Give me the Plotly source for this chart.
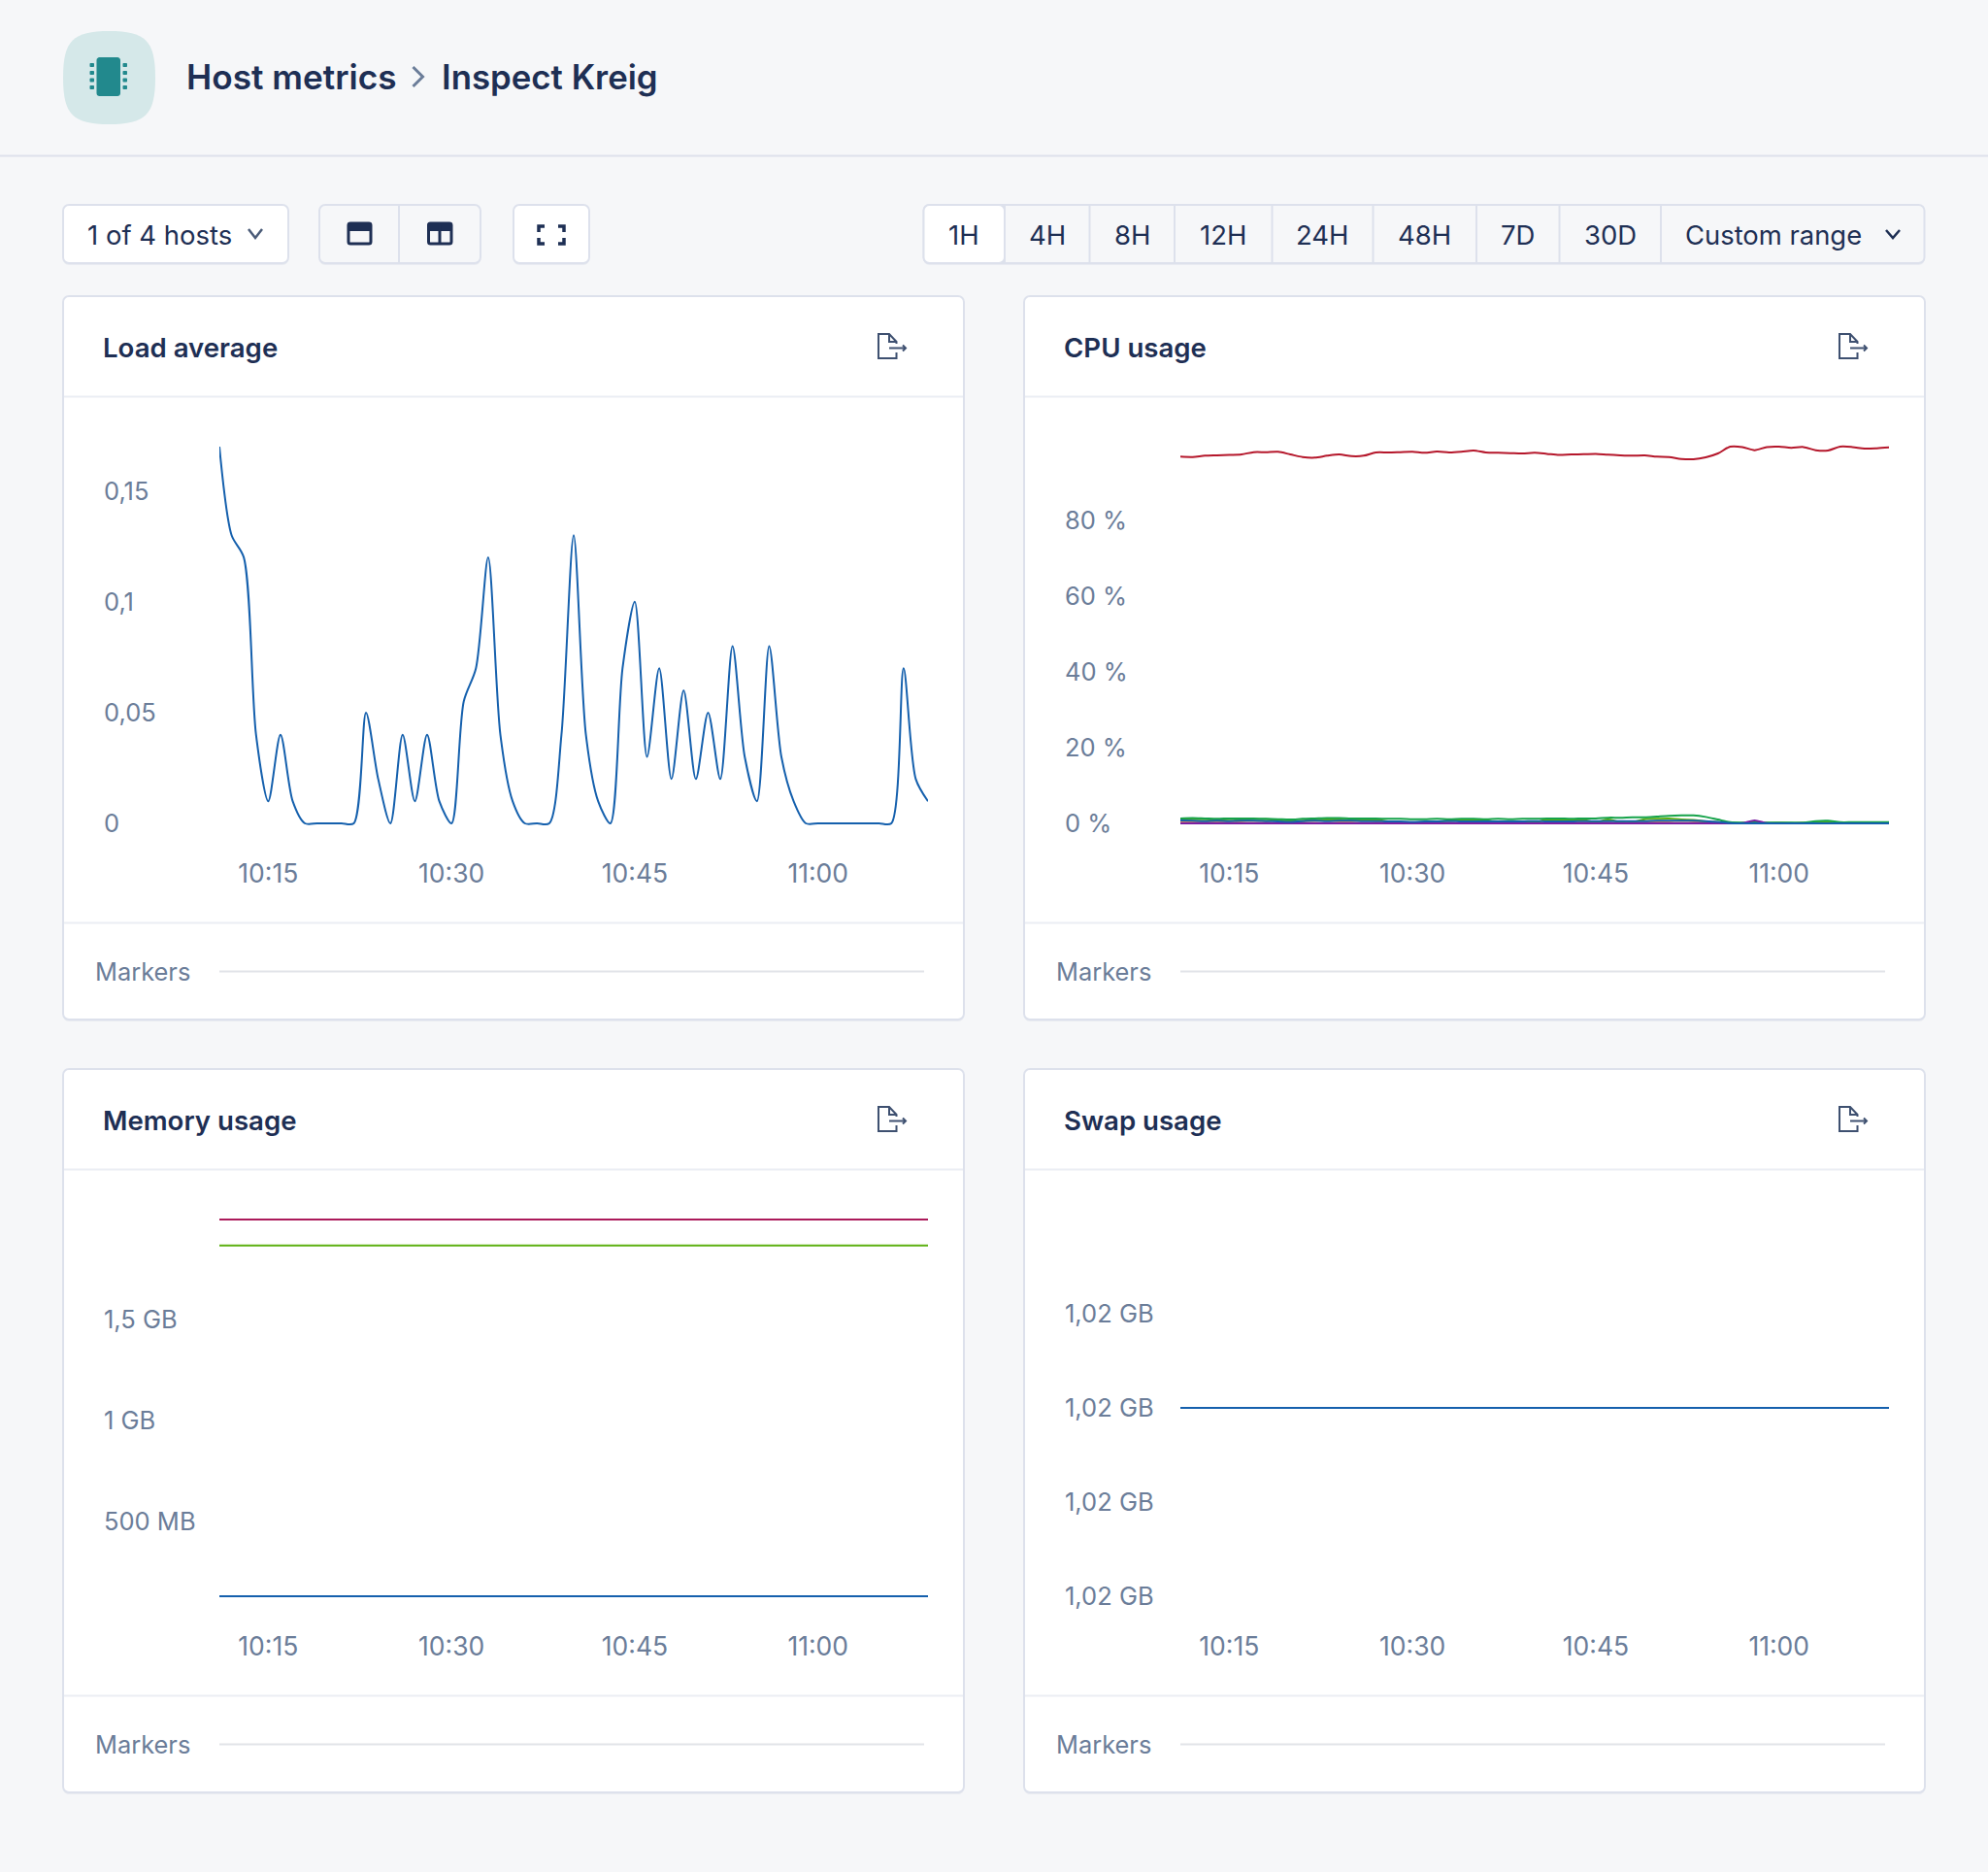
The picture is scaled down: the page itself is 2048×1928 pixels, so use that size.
import pandas as pd
import plotly.graph_objects as go

W, H = 2048, 1928
minutes = pd.date_range("2021-03-01 10:11", periods=59, freq="min")
tick_times = ["2021-03-01 10:15", "2021-03-01 10:30", "2021-03-01 10:45", "2021-03-01 11:00"]

load_avg = [0.17, 0.13, 0.12, 0.04, 0.01, 0.04, 0.01, 0, 0, 0, 0, 0, 0.05, 0.02, 0, 0.04, 0.01, 0.04, 0.01, 0,
            0.055, 0.07, 0.12, 0.04, 0.01, 0, 0, 0, 0.04, 0.13, 0.04, 0.01, 0, 0.07, 0.10, 0.03, 0.07, 0.02, 0.06, 0.02,
            0.05, 0.02, 0.08, 0.03, 0.01, 0.08, 0.03, 0.01, 0, 0, 0, 0, 0, 0, 0, 0, 0.07, 0.02, 0.01]

cpu_idle = [96.85, 96.76, 97.1, 97.2, 97.3, 97.45, 98.04, 98.04, 98.13, 97.45, 96.76, 96.6, 97.1, 97.45, 97.0,
            97.1, 97.96, 97.96, 98.04, 98.13, 97.87, 98.2, 97.96, 98.13, 98.47, 97.96, 97.87, 97.79, 97.7, 97.87,
            97.6, 97.3, 97.45, 97.5, 97.6, 97.36, 97.2, 97.1, 97.2, 96.85, 96.76, 96.25, 96.17, 96.68, 97.7,
            99.5, 99.4, 98.56, 99.4, 99.5, 99.2, 99.4, 98.56, 98.47, 99.5, 99.4, 98.98, 99.07, 99.3]
cpu_user = [1.3, 1.4, 1.3, 1.2, 1.3, 1.3, 1.3, 1.2, 1.1, 1.0, 1.2, 1.3, 1.4, 1.4, 1.3, 1.3, 1.3, 1.2, 1.2, 1.1,
            1.1, 1.2, 1.1, 1.2, 1.2, 1.1, 1.2, 1.1, 1.2, 1.2, 1.3, 1.3, 1.2, 1.3, 1.3, 1.5, 1.5, 1.6, 1.6, 1.8,
            2.0, 2.1, 2.1, 1.7, 1.0, 0.3, 0.2, 0.3, 0.2, 0.2, 0.2, 0.2, 0.6, 0.7, 0.3, 0.3, 0.3, 0.3, 0.3]
cpu_lime = [1.0, 1.1, 1.1, 0.9, 1.1, 1.0, 1.1, 1.1, 0.9, 0.5, 0.7, 0.9, 1.0, 1.0, 0.9, 1.0, 1.0, 0.5, 0.2, 0.2,
            0.3, 0.2, 0.9, 1.0, 0.9, 0.9, 0.2, 0.2, 0.3, 0.3, 1.0, 1.0, 0.9, 0.9, 0.3, 1.0, 0.3, 0.3, 1.1, 1.2,
            1.3, 1.0, 0.9, 0.5, 0.3, 0.1, 0.1, 0.1, 0.1, 0.1, 0.1, 0.1, 0.3, 0.3, 0.1, 0.1, 0.1, 0.1, 0.1]
cpu_orange = [0.2, 0.2, 0.2, 0.2, 0.2, 0.2, 0.1, 0.2, 0.1, 0.2, 0.2, 0.1, 0.1, 0.2, 0.2, 0.1, 0.2, 0.2, 0.2, 0.2,
              0.2, 0.1, 0.2, 0.1, 0.2, 0.2, 0.2, 0.1, 0.2, 0.2, 0.1, 0.2, 0.2, 0.2, 0.2, 0.2, 0.1, 0.2, 0.2, 0.2,
              0.2, 0.1, 0.2, 0.2, 0.1, 0.1, 0, 0.1, 0, 0.1, 0, 0.1, 0.1, 0.1, 0, 0.1, 0, 0, 0]
cpu_purple = [0, 0, 0, 0, 0, 0, 0, 0, 0, 0, 0, 0, 0, 0, 0, 0, 0, 0, 0, 0,
              0, 0, 0, 0, 0, 0, 0, 0, 0, 0, 0, 0, 0, 0, 0, 0, 0, 0, 0, 0,
              0, 0, 0, 0, 0, 0, 0.05, 0.8, 0.05, 0, 0, 0, 0, 0, 0, 0, 0, 0, 0]
cpu_blue = [0.8, 0.7, 0.6, 0.7, 0.6, 0.7, 0.7, 0.6, 0.5, 0.4, 0.6, 0.7, 0.6, 0.7, 0.7, 0.6, 0.6, 0.5, 0.5, 0.4,
            0.5, 0.5, 0.6, 0.5, 0.5, 0.5, 0.5, 0.5, 0.5, 0.6, 0.5, 0.5, 0.5, 0.6, 0.6, 0.6, 0.6, 0.6, 0.6, 0.7,
            0.7, 0.7, 0.7, 0.6, 0.4, 0.05, 0, 0, 0, 0, 0, 0, 0, 0, 0, 0, 0, 0, 0]

mem_total = [1993] * len(minutes)
mem_used = [1865] * len(minutes)
mem_free = [128] * len(minutes)
swap_total = [1022] * len(minutes)

load_ticks = [0, 0.05, 0.1, 0.15]
load_labels = ["0", "0,05", "0,1", "0,15"]
cpu_ticks = [0, 20, 40, 60, 80]
cpu_labels = ["0 %", "20 %", "40 %", "60 %", "80 %"]
mem_ticks = [500, 1000, 1500]
mem_labels = ["500 MB", "1 GB", "1,5 GB"]
swap_ticks = [1020, 1021, 1022, 1023]
swap_labels = ["1,02 GB", "1,02 GB", "1,02 GB", "1,02 GB"]

titles = ["Load average", "CPU usage", "Memory usage", "Swap usage"]
ranges = ["1H", "4H", "8H", "12H", "24H", "48H", "7D", "30D"]

NAVY = "#1e2f54"
GREY = "#6b7d99"
BORDER = "#dde1ec"
DIVIDER = "#ebeef4"
BG = "#f6f7f9"
FONT = "Inter"


def X(p):
    return p / W


def Y(p):
    return 1 - p / H


def path(points):
    s = ""
    for i, (a, b) in enumerate(points):
        s += ("M" if i == 0 else "L") + f"{X(a):.5f},{Y(b):.5f}"
    return s


def curves(seg):
    s = ""
    for item in seg:
        s += item[0] + " ".join(f"{X(a):.5f},{Y(b):.5f}" for a, b in item[1:])
    return s + "Z"


def rrect(x0, y0, x1, y1, r):
    k = r * 0.45
    return curves([
        ("M", (x0 + r, y0)), ("L", (x1 - r, y0)),
        ("C", (x1 - k, y0), (x1, y0 + k), (x1, y0 + r)), ("L", (x1, y1 - r)),
        ("C", (x1, y1 - k), (x1 - k, y1), (x1 - r, y1)), ("L", (x0 + r, y1)),
        ("C", (x0 + k, y1), (x0, y1 - k), (x0, y1 - r)), ("L", (x0, y0 + r)),
        ("C", (x0, y0 + k), (x0 + k, y0), (x0 + r, y0)),
    ])


def squircle(x0, y0, x1, y1, c):
    mx, my = (x0 + x1) / 2, (y0 + y1) / 2
    return curves([
        ("M", (mx, y0)),
        ("C", (x1 - c, y0), (x1, y0 + c), (x1, my)),
        ("C", (x1, y1 - c), (x1 - c, y1), (mx, y1)),
        ("C", (x0 + c, y1), (x0, y1 - c), (x0, my)),
        ("C", (x0, y0 + c), (x0 + c, y0), (mx, y0)),
    ])


shapes = []
notes = []


def add_path(d, fill=None, line=None, width=0):
    shapes.append(dict(type="path", path=d, xref="paper", yref="paper", layer="below",
                       fillcolor=fill if fill else "rgba(0,0,0,0)",
                       line=dict(color=line if line else "rgba(0,0,0,0)", width=width)))


def add_box(x0, y0, x1, y1, r=6, fill="white"):
    add_path(rrect(x0, y0 + 2, x1, y1 + 2, r), fill="#e9ebf1")
    add_path(rrect(x0, y0, x1, y1, r), fill=fill, line=BORDER, width=2)


def add_text(x, y, text, size, color=NAVY, anchor="left", weight=400):
    notes.append(dict(x=X(x), y=Y(y), xref="paper", yref="paper", text=text, showarrow=False,
                      xanchor=anchor, yanchor="middle", align=anchor,
                      font=dict(family=FONT, size=size, color=color, weight=weight)))


def add_chevron(x0, x1, y0, y1, color=GREY, width=2.5):
    add_path(path([(x0, y0), ((x0 + x1) / 2, y1), (x1, y0)]), line=color, width=width)


# page header
add_path(path([(0, 160.5), (W, 160.5)]), line=BORDER, width=2)
add_path(squircle(65, 32, 160, 128, 10), fill="#d5e8e9")
add_path(rrect(99.5, 59, 124, 99, 3), fill="#22898d")
for py in [67, 75, 82.5, 90]:
    add_path(rrect(92.5, py - 2, 97, py + 2, 1), fill="#22898d")
    add_path(rrect(126.5, py - 2, 131, py + 2, 1), fill="#22898d")
add_text(189.5, 79, "Host metrics", 35.2, weight=600)
add_path(path([(425.5, 69), (435.5, 79), (425.5, 89)]), line=GREY, width=3)
add_text(452.5, 79, "Inspect Kreig", 34.8, weight=600)

# toolbar
add_box(65, 211, 297, 271)
add_text(88, 242, "1 of 4 hosts", 27.5)
add_chevron(256, 270, 236, 245, color="#4a5b78")

add_box(329, 211, 495, 271, fill=BG)
add_path(path([(411, 211), (411, 271)]), line=BORDER, width=2)
add_path(rrect(359, 230, 382, 251, 2), line=NAVY, width=3)
add_path(rrect(358, 229, 383, 238, 2), fill=NAVY)
add_path(rrect(441.5, 230, 465, 251, 2), line=NAVY, width=3)
add_path(rrect(440.5, 229, 466, 238, 2), fill=NAVY)
add_path(path([(453, 232), (453, 251)]), line=NAVY, width=3)

add_box(529, 211, 607, 271)
for cx, cy, dx, dy in [(555, 233, 1, 1), (581, 233, -1, 1), (555, 251, 1, -1), (581, 251, -1, -1)]:
    add_path(path([(cx + 6 * dx, cy), (cx, cy), (cx, cy + 6 * dy)]), line=NAVY, width=3.5)

range_edges = [951.5, 1035, 1122.5, 1210, 1310.5, 1414.5, 1521, 1606.5, 1711, 1982.5]
add_box(951.5, 211, 1982.5, 271, fill=BG)
add_path(rrect(951.5, 211, 1035, 271, 6), fill="white", line=BORDER, width=2)
for edge in range_edges[1:-1]:
    add_path(path([(edge, 211), (edge, 271)]), line=BORDER, width=2)
for i, label in enumerate(ranges):
    add_text((range_edges[i] + range_edges[i + 1]) / 2, 242, label, 27.5, anchor="center")
add_text(1734, 242, "Custom range", 27.4)
add_chevron(1943, 1957, 237, 245, color=NAVY)

# cards
offsets = [(0, 0), (990, 0), (0, 796), (990, 796)]
for (dx, dy), title in zip(offsets, titles):
    add_box(65 + dx, 305 + dy, 993 + dx, 1050 + dy)
    add_path(path([(66 + dx, 408.5 + dy), (992 + dx, 408.5 + dy)]), line=DIVIDER, width=2)
    add_path(path([(66 + dx, 950.5 + dy), (992 + dx, 950.5 + dy)]), line=DIVIDER, width=2)
    add_text(103.5 + dx, 358 + dy, title, 27.6, weight=600)
    add_text(95.5 + dx, 1000.5 + dy, "Markers", 25.4, color=GREY)
    add_path(path([(226 + dx, 1000.5 + dy), (952 + dx, 1000.5 + dy)]), line="#e1e3e8", width=2)
    # export icon
    add_path(path([(923.5 + dx, 363 + dy), (923.5 + dx, 369 + dy), (905 + dx, 369 + dy), (905 + dx, 344 + dy),
                   (916 + dx, 344 + dy), (923.5 + dx, 352 + dy), (923.5 + dx, 354 + dy)]), line="#3e5070", width=2)
    add_path(path([(916 + dx, 344 + dy), (916 + dx, 352 + dy), (923.5 + dx, 352 + dy)]), line="#3e5070", width=2)
    add_path(path([(916 + dx, 358.5 + dy), (933 + dx, 358.5 + dy)]), line="#3e5070", width=2)
    add_path(path([(930 + dx, 355.5 + dy), (933 + dx, 358.5 + dy), (930 + dx, 361.5 + dy)]), line="#3e5070", width=2)

fig = go.Figure()
panels = [
    [(load_avg, "#1560ad", "Load")],
    [(cpu_idle, "#b5172b", "Idle"), (cpu_orange, "#d9622b", "System"), (cpu_lime, "#5cb011", "Nice"),
     (cpu_user, "#16a34a", "User"), (cpu_purple, "#7b1fa2", "Steal"), (cpu_blue, "#1560ad", "Iowait")],
    [(mem_total, "#ab1a5a", "Total"), (mem_used, "#5cb011", "Used"), (mem_free, "#1560ad", "Free")],
    [(swap_total, "#1560ad", "Swap")],
]
y_setup = [
    ([0, 0.17], load_ticks, load_labels),
    ([0, 99.5], cpu_ticks, cpu_labels),
    ([128, 1993], mem_ticks, mem_labels),
    ([1020, 1024], swap_ticks, swap_labels),
]

# lines get clipped at the plot edge, so leave 4px of room above and below
PAD = 4
layout_axes = {}
for i, (series, (dx, dy), (yrange, ticks, labels)) in enumerate(zip(panels, offsets, y_setup), start=1):
    for values, color, name in series:
        fig.add_trace(go.Scatter(x=minutes, y=values, mode="lines", name=name, xaxis=f"x{i}", yaxis=f"y{i}",
                                 line=dict(color=color, width=2, shape="spline", smoothing=0.8)))
    extra = (yrange[1] - yrange[0]) * PAD / 388
    layout_axes[f"xaxis{i}"] = dict(
        domain=[X(226 + dx), X(956 + dx)], anchor=f"y{i}", type="date", automargin=False,
        range=[minutes[0], minutes[-1]], tickvals=tick_times, tickformat="%H:%M",
        showgrid=False, zeroline=False, showline=False, ticks="outside", ticklen=28 - PAD,
        tickcolor="rgba(0,0,0,0)", tickfont=dict(family=FONT, size=26.5, color=GREY))
    layout_axes[f"yaxis{i}"] = dict(
        domain=[Y(848 + PAD + dy), Y(460 - PAD + dy)], anchor="free", position=X(103 + dx),
        range=[yrange[0] - extra, yrange[1] + extra], automargin=False,
        tickvals=ticks, ticktext=labels, ticklabelposition="inside", ticklabeloverflow="allow",
        showgrid=False, zeroline=False, showline=False, ticks="",
        tickfont=dict(family=FONT, size=25.5, color=GREY))

fig.update_layout(width=W, height=H, margin=dict(l=0, r=0, t=0, b=0, autoexpand=False), autosize=False,
                  paper_bgcolor=BG, plot_bgcolor="rgba(0,0,0,0)", showlegend=False,
                  font=dict(family=FONT), shapes=shapes, annotations=notes, **layout_axes)

fig.write_html("out.html", config=dict(displayModeBar=False), post_script="document.body.style.margin='0';")
